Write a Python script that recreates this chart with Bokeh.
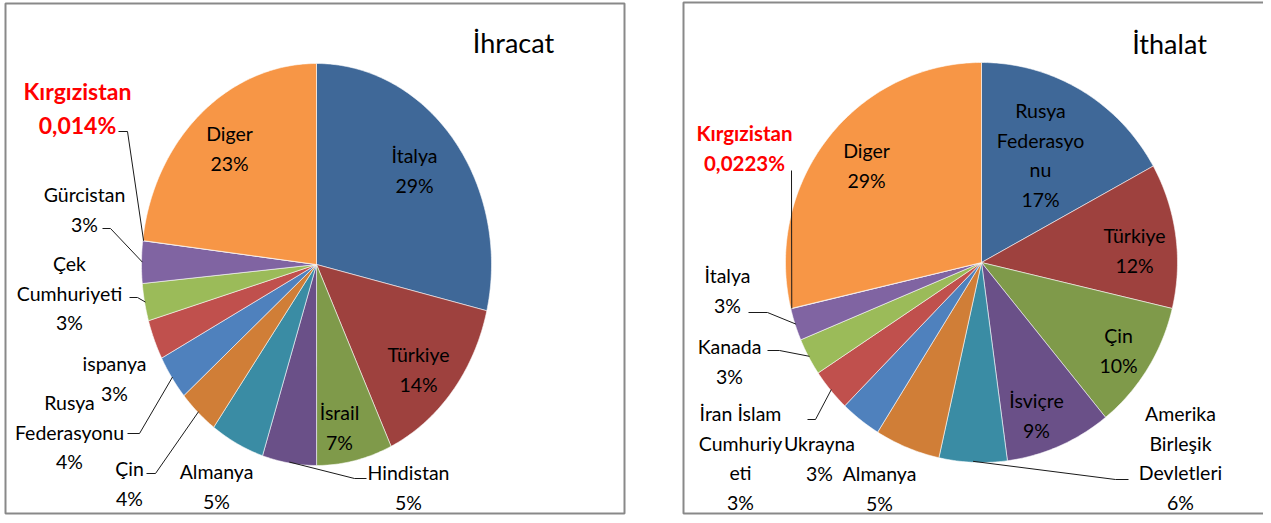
import numpy as np
from bokeh.plotting import figure
from bokeh.models import Range1d, ColumnDataSource
from bokeh.core.properties import value
from bokeh.embed import file_html
from bokeh.resources import INLINE

# ---------------- data ----------------
exp_countries = ["İtalya", "Türkiye", "İsrail", "Hindistan", "Almanya", "Çin",
                 "Rusya Federasyonu", "ispanya", "Çek Cumhuriyeti", "Gürcistan",
                 "Kırgızistan", "Diger"]
exp_values = [28.7, 14.3, 7.0, 5.0, 5.0, 3.7, 3.6, 3.2, 3.0, 3.4, 0.014, 23.1]
exp_pct = ["29%", "14%", "7%", "5%", "5%", "4%", "4%", "3%", "3%", "3%", "0,014%", "23%"]
exp_names_wrapped = ["İtalya", "Türkiye", "İsrail", "Hindistan", "Almanya", "Çin",
                     "Rusya\nFederasyonu", "ispanya", "Çek\nCumhuriyeti", "Gürcistan",
                     "Kırgızistan", "Diger"]

imp_countries = ["Rusya Federasyonu", "Türkiye", "Çin", "İsviçre",
                 "Amerika Birleşik Devletleri", "Almanya", "Ukrayna",
                 "İran İslam Cumhuriyeti", "Kanada", "İtalya", "Kırgızistan", "Diger"]
imp_values = [17.0, 11.7, 10.4, 8.8, 5.6, 5.4, 3.4, 3.4, 3.0, 2.6, 0.0223, 28.7]
imp_pct = ["17%", "12%", "10%", "9%", "6%", "5%", "3%", "3%", "3%", "3%", "0,0223%", "29%"]
imp_names_wrapped = ["Rusya\nFederasyo\nnu", "Türkiye", "Çin", "İsviçre",
                     "Amerika\nBirleşik\nDevletleri", "Almanya", "Ukrayna",
                     "İran İslam\nCumhuriy\neti", "Kanada", "İtalya", "Kırgızistan", "Diger"]

titles = ["İhracat", "İthalat"]

# ---------------- styles / layout ----------------
slice_colors = ["#3F6898", "#9E413E", "#7F9A4A", "#6A5088", "#3A8CA4", "#D07E37",
                "#4F81BD", "#C0504D", "#9BBB59", "#8064A2", "#4BACC6", "#F79646"]
highlight = "Kırgızistan"
FONT = "Lato"

W, H = 1263, 515
p = figure(width=W, height=H, output_backend="svg", toolbar_location=None,
           x_range=Range1d(0, W), y_range=Range1d(H, 0),
           min_border=0, outline_line_color=None)
p.axis.visible = False
p.grid.visible = False
p.background_fill_color = "white"

# panel frames
p.quad(left=[5, 683], right=[624, 1275], top=[3, 2], bottom=[513, 513],
       fill_color=None, line_color="#898989", line_width=2)

panels = [
    dict(values=exp_values, pct=exp_pct, names=exp_names_wrapped, countries=exp_countries,
         cx=316, cy=264, rx=175, ry=201, title_xy=(513, 42),
         label_xy=[(414, 155), (418, 354), (339, 412), (408, 472), (216, 471), (129, 468),
                   (69, 402), (114, 363), (69, 263), (84, 194), (77, 90), (229, 133)],
         leader=[None, None, None, (366, 478, 354), None, (146, 473, 155),
                 (127, 433, 139), None, (129, 297, 137), (102, 228, 110),
                 (118, 131, 127), None],
         hl_size=23, hl_gap=34),
    dict(values=imp_values, pct=imp_pct, names=imp_names_wrapped, countries=imp_countries,
         cx=981, cy=262, rx=196, ry=200, title_xy=(1169, 43),
         label_xy=[(1040, 110), (1134, 235), (1118, 335), (1036, 400), (1180, 413),
                   (879, 473), (819, 443), (740, 413), (729, 346), (727, 275),
                   (744, 132), (866, 150)],
         leader=[None, None, None, None, (1128, 479, 1115), None, None,
                 (807, 419, 815), (767, 350, 779), (748, 312, 767),
                 (791, 170, 791), None],
         hl_size=20.5, hl_gap=30),
]

LINE = 29.5
for pan in panels:
    vals = np.array(pan["values"], dtype=float)
    frac = vals / vals.sum()
    cum = np.concatenate([[0.0], np.cumsum(frac)])
    cx, cy, rx, ry = pan["cx"], pan["cy"], pan["rx"], pan["ry"]
    xs, ys = [], []
    for a0, a1 in zip(cum[:-1], cum[1:]):
        th = np.linspace(a0, a1, max(3, int((a1 - a0) * 400) + 2)) * 2 * np.pi
        xs.append([cx] + list(cx + rx * np.sin(th)) + [cx])
        ys.append([cy] + list(cy - ry * np.cos(th)) + [cy])
    src = ColumnDataSource(dict(xs=xs, ys=ys, color=slice_colors[:len(xs)]))
    p.patches("xs", "ys", source=src, fill_color="color", line_color="white",
              line_width=0.8, line_alpha=0.7)

    # leader lines
    lx, ly = [], []
    for i, ld in enumerate(pan["leader"]):
        if ld is None:
            continue
        mid = (cum[i] + cum[i + 1]) / 2 * 2 * np.pi
        if pan["countries"][i] == highlight:
            mid = cum[i] * 2 * np.pi
        px = cx + rx * 0.995 * np.sin(mid)
        py = cy - ry * 0.995 * np.cos(mid)
        x0, y0, x1 = ld
        lx.append([x0, x1, px])
        ly.append([y0, y0, py])
    p.multi_line(lx, ly, line_color="#1a1a1a", line_width=1)

    # labels
    tx, ty, tt = [], [], []
    hx, hy, ht = [], [], []
    for i, (name, pc) in enumerate(zip(pan["names"], pan["pct"])):
        x, y = pan["label_xy"][i]
        if pan["countries"][i] == highlight:
            hx += [x, x]
            hy += [y, y + pan["hl_gap"]]
            ht += [name, pc]
            continue
        lines = name.split("\n") + [pc]
        for k, t in enumerate(lines):
            tx.append(x)
            ty.append(y + k * LINE)
            tt.append(t)
    p.text(tx, ty, text=tt, text_font=value(FONT), text_font_size="19.5px",
           text_color="#000000", text_align="center", text_baseline="middle")
    p.text(hx, hy, text=ht, text_font=value(FONT), text_font_size=f"{pan['hl_size']}px",
           text_font_style="bold", text_color="#FF0000", text_align="center",
           text_baseline="middle")

for pan, t in zip(panels, titles):
    p.text([pan["title_xy"][0]], [pan["title_xy"][1]], text=[t], text_font=value(FONT),
           text_font_size="27px", text_color="#000000", text_align="center",
           text_baseline="middle")

open("out.html", "w").write(file_html(p, INLINE))
